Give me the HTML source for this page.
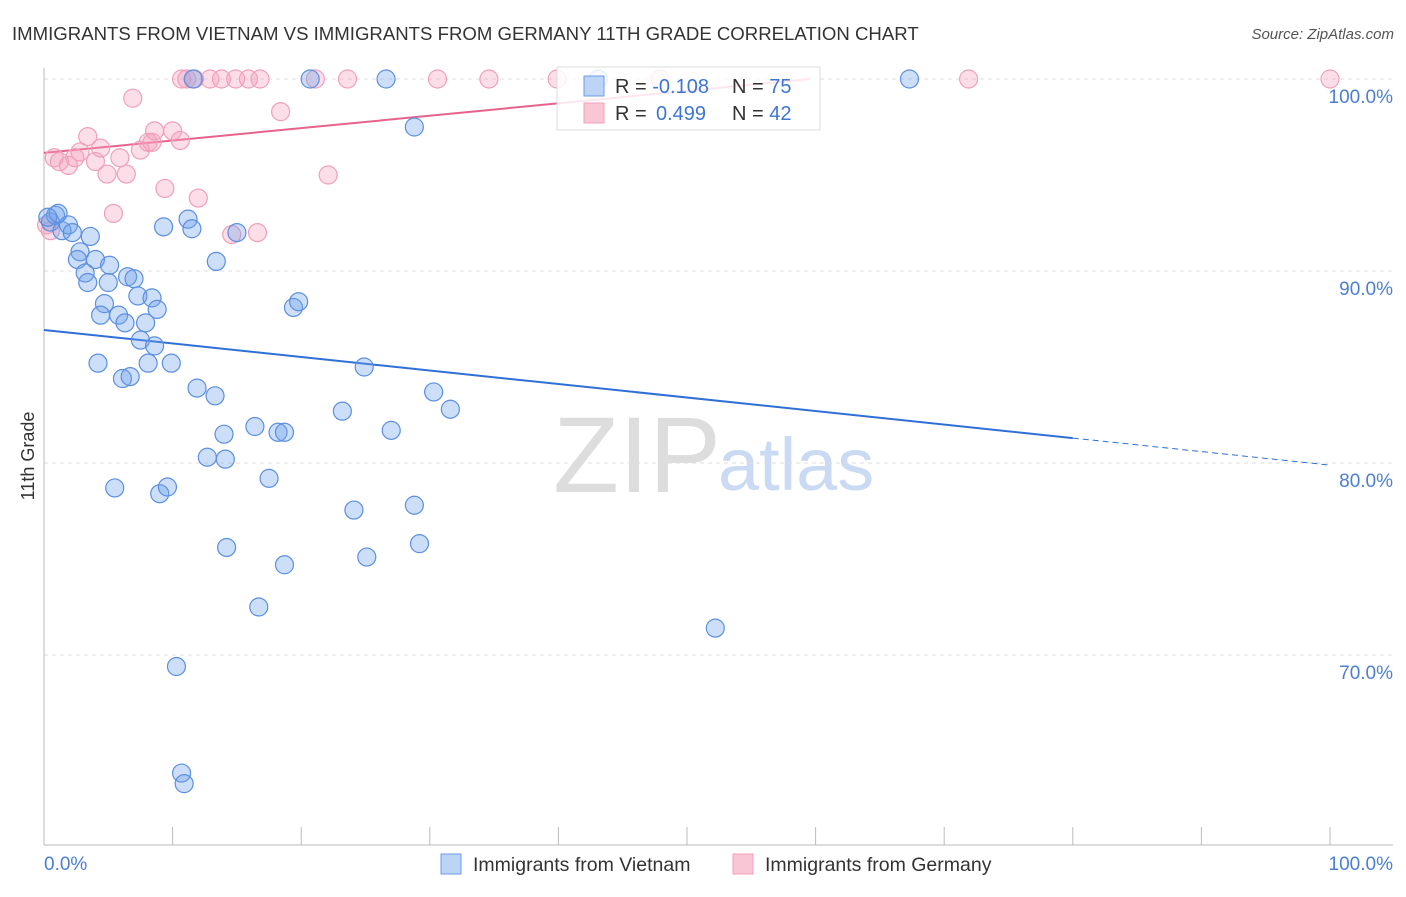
<!DOCTYPE html>
<html><head><meta charset="utf-8"><style>
body{margin:0;background:#fff;font-family:"Liberation Sans",sans-serif}
svg text{font-family:"Liberation Sans",sans-serif}
</style></head><body>
<svg id="chart" width="1406" height="892" xmlns="http://www.w3.org/2000/svg">
<text x="12" y="40" font-size="18.6" fill="#333">IMMIGRANTS FROM VIETNAM VS IMMIGRANTS FROM GERMANY 11TH GRADE CORRELATION CHART</text>
<text x="1394" y="39" font-size="15" fill="#555" text-anchor="end" font-style="italic">Source: ZipAtlas.com</text>
<text x="553" y="492" font-size="108" fill="#ddd" font-family="Liberation Serif, serif">ZIP</text>
<text x="718" y="490" font-size="74" fill="#c9daf2">atlas</text>
<g id="grid"></g><g id="axes"></g><g id="trend"></g><g id="pts"></g>
<text x="34" y="456" font-size="18" fill="#333" text-anchor="middle" transform="rotate(-90 34 456)">11th Grade</text>
<text x="44" y="870" font-size="19" fill="#4a7fd4">0.0%</text>
<text x="1393" y="870" font-size="19" fill="#4a7fd4" text-anchor="end">100.0%</text>
<g>
<rect x="557" y="67" width="263" height="63" fill="#fff" fill-opacity="0.85" stroke="#ddd"/>
<rect x="584" y="76" width="20" height="20" fill="#bcd4f5" stroke="#6d9ce6"/>
<rect x="584" y="103" width="20" height="20" fill="#f9c6d5" stroke="#f0a0b8"/>
<text x="615" y="93" font-size="20" fill="#333">R = <tspan fill="#3b76d2">-0.108</tspan></text>
<text x="732" y="93" font-size="20" fill="#333">N = <tspan fill="#3b76d2">75</tspan></text>
<text x="615" y="120" font-size="20" fill="#333">R = <tspan fill="#3b76d2" x="656">0.499</tspan></text>
<text x="732" y="120" font-size="20" fill="#333">N = <tspan fill="#3b76d2">42</tspan></text>
</g>
<g><rect x="441" y="854" width="20" height="20" fill="#bcd4f5" stroke="#6d9ce6"/><text x="473" y="871" font-size="19.5" fill="#333">Immigrants from Vietnam</text></g>
<g><rect x="733" y="854" width="20" height="20" fill="#f9c6d5" stroke="#f0a0b8"/><text x="765" y="871" font-size="19.5" fill="#333">Immigrants from Germany</text></g>
</svg>
<script>
const yTicks=[100,90,80,70];
const yTickLabels=["100.0%","90.0%","80.0%","70.0%"];
const vietX=[0.5,0.9,1.1,0.3,1.4,1.9,2.2,3.6,2.8,2.6,4.0,3.2,3.4,5.1,5.0,6.5,7.0,4.7,4.4,5.8,6.3,7.9,7.3,8.4,8.8,7.5,8.6,4.2,6.1,6.7,8.1,9.9,9.3,11.2,11.5,13.4,15.0,19.4,19.8,11.9,13.3,14.0,12.7,14.1,16.4,18.2,18.7,17.5,5.5,9.0,9.6,14.2,18.7,16.7,10.3,10.7,10.9,23.2,24.9,24.1,25.1,27.0,28.8,29.2,30.3,31.6,28.8,26.6,20.7,11.6,67.3,43.1,52.2];
const vietY=[92.55,92.9,93.0,92.8,92.1,92.4,92.0,91.8,91.0,90.6,90.6,89.9,89.4,90.3,89.4,89.7,89.6,88.3,87.7,87.7,87.3,87.3,88.7,88.6,88.0,86.4,86.1,85.2,84.4,84.5,85.2,85.2,92.3,92.7,92.2,90.5,92.0,88.1,88.4,83.9,83.5,81.5,80.3,80.2,81.9,81.6,81.6,79.2,78.7,78.4,78.75,75.6,74.7,72.5,69.4,63.85,63.3,82.7,85.0,77.55,75.1,81.7,77.8,75.8,83.7,82.8,97.5,100,100,100,100,100,71.4];
const gerX=[0.5,0.2,0.8,1.2,1.9,2.4,2.8,3.4,4.0,4.4,4.9,5.4,5.9,6.4,6.9,7.5,8.1,8.4,8.6,9.4,10.0,10.6,12.0,10.7,11.1,11.7,12.9,13.8,14.9,15.9,16.8,18.4,21.1,22.1,23.6,30.6,34.6,39.9,47.9,71.9,100,14.6,16.6];
const gerY=[92.1,92.4,95.9,95.7,95.5,95.9,96.2,97.0,95.7,96.4,95.05,93.0,95.9,95.05,99.0,96.3,96.7,96.7,97.3,94.3,97.3,96.8,93.8,100,100,100,100,100,100,100,100,98.3,100,95.0,100,100,100,100,100,100,100,91.9,92.0];
const vietTrend=[86.93,-0.0704];
const gerTrend=[96.15,0.0646];
const NS="http://www.w3.org/2000/svg";
const X0=44,X1=1330,Y100=79,PX10=192;
const sx=v=>X0+(X1-X0)*v/100;
const sy=v=>Y100+(100-v)*PX10/10;
function mk(tag,attrs,parent){const e=document.createElementNS(NS,tag);for(const k in attrs)e.setAttribute(k,attrs[k]);parent.appendChild(e);return e;}
const grid=document.getElementById('grid'),axes=document.getElementById('axes'),trend=document.getElementById('trend'),pts=document.getElementById('pts');
yTicks.forEach((t,i)=>{
 const l=mk('line',{x1:44,x2:1393,y1:sy(t),y2:sy(t),stroke:'#ddd','stroke-dasharray':'4,4'},grid);
 
 
 const tx=mk('text',{x:1393,y:sy(t)+24,'font-size':19,fill:'#4a7fd4','text-anchor':'end'},grid);
 tx.textContent=yTickLabels[i];
 
 
});
const ax=mk('line',{x1:44,x2:1393,y1:845,y2:845,stroke:'#bbb'},axes);


const ay=mk('line',{x1:44,x2:44,y1:68,y2:845,stroke:'#bbb'},axes);


for(let k=1;k<=10;k++){
 const t=mk('line',{x1:sx(k*10),x2:sx(k*10),y1:827,y2:845,stroke:'#bbb'},axes);
 
 
}
const vEnd=80;
const b1=mk('line',{x1:sx(0),y1:sy(vietTrend[0]),x2:sx(vEnd),y2:sy(vietTrend[0]+vietTrend[1]*vEnd),stroke:'#2f6fd6','stroke-width':2},trend);


const b2=mk('line',{x1:sx(vEnd),y1:sy(vietTrend[0]+vietTrend[1]*vEnd),x2:sx(100),y2:sy(vietTrend[0]+vietTrend[1]*100),stroke:'#2f6fd6','stroke-width':1,'stroke-dasharray':'6,4'},trend);


const gEnd=(100-gerTrend[0])/gerTrend[1];
const p1=mk('line',{x1:sx(0),y1:sy(gerTrend[0]),x2:sx(gEnd),y2:sy(100),stroke:'#e8628c','stroke-width':2},trend);


gerX.forEach((x,i)=>{
 const c=mk('circle',{cx:sx(x),cy:sy(gerY[i]),r:9,fill:'rgba(244,160,188,0.35)',stroke:'#f0a0b8','stroke-width':1.2},pts);
 
 
});
vietX.forEach((x,i)=>{
 const c=mk('circle',{cx:sx(x),cy:sy(vietY[i]),r:9,fill:'rgba(110,160,235,0.35)',stroke:'#5b8fe0','stroke-width':1.2},pts);
 
 
});
</script>
</body></html>
